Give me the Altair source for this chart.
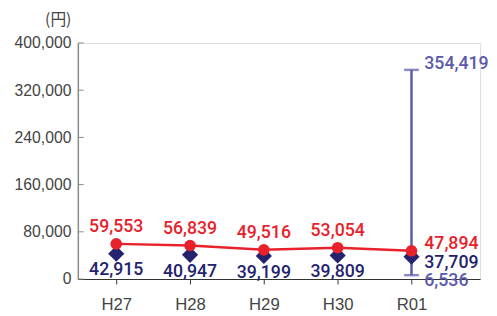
import altair as alt
import pandas as pd

years = ["H27", "H28", "H29", "H30", "R01"]
average = [59553, 56839, 49516, 53054, 47894]
median = [42915, 40947, 39199, 39809, 37709]
r01_min = 6536
r01_max = 354419
y_ticks = [0, 80000, 160000, 240000, 320000, 400000]

RED = "#e8212b"
NAVY = "#23236e"
PURPLE = "#5a5aaa"

df = pd.DataFrame({"idx": list(range(len(years))), "year": years,
                   "avg": average, "med": median})
rng = pd.DataFrame({"idx": [len(years) - 1], "lo": [r01_min], "hi": [r01_max]})
tick_df = pd.DataFrame({"v": y_ticks})

label_expr = "[" + ",".join("'%s'" % y for y in years) + "][datum.value]"
xscale = alt.Scale(domain=[-0.52, 4.93], nice=False, zero=False)
xaxis = alt.Axis(values=list(range(len(years))), labelExpr=label_expr, title=None,
                 grid=False, domainColor="#333333", domainWidth=1.2, tickColor="#333333",
                 tickSize=5, labelFontSize=17, labelColor="#444444", labelPadding=13,
                 labelFont="Liberation Sans")
yscale = alt.Scale(domain=[0, 400000], nice=False)
yaxis = alt.Axis(values=y_ticks, labelExpr="format(datum.value, ',')", title="(円)",
                 titleAngle=0,
                 titleAlign="right", titleBaseline="middle", titleX=-7, titleY=-24,
                 titleFontSize=16, titleFontWeight="normal", titleColor="#444444",
                 titleFont="Noto Sans CJK JP",
                 grid=False, ticks=False, domainColor="#8a8a8a", domainWidth=1.5,
                 labelFontSize=16, labelColor="#444444", labelPadding=7,
                 labelFont="Liberation Sans")


def X():
    return alt.X("idx:Q", scale=xscale, axis=xaxis)


def Y(field):
    return alt.Y(field, scale=yscale, axis=yaxis)


base = alt.Chart(df)

ticks = alt.Chart(tick_df).mark_rule(color="#8a8a8a", strokeWidth=1).encode(
    y=Y("v:Q"), x=alt.value(0), x2=alt.value(6))

err = alt.Chart(rng).mark_rule(color=PURPLE, strokeWidth=2.5).encode(
    x=X(), y=Y("lo:Q"), y2="hi:Q")
cap_lo = alt.Chart(rng).mark_tick(color=PURPLE, orient="horizontal", size=15, thickness=2.5).encode(
    x=X(), y=Y("lo:Q"))
cap_hi = alt.Chart(rng).mark_tick(color=PURPLE, orient="horizontal", size=15, thickness=2.5).encode(
    x=X(), y=Y("hi:Q"))

line = base.mark_line(color=RED, strokeWidth=2.5).encode(x=X(), y=Y("avg:Q"))
diamonds = base.mark_point(shape="diamond", filled=True, size=270, color=NAVY, opacity=1).encode(
    x=X(), y=Y("med:Q"))
circles = base.mark_circle(size=140, color=RED, opacity=1).encode(x=X(), y=Y("avg:Q"))

font = dict(font="Roboto", fontSize=18, fontWeight=500)
red_lbl = base.transform_filter("datum.idx < 4").mark_text(dy=-17, color=RED, **font).encode(
    x=X(), y=Y("avg:Q"), text=alt.Text("avg:Q", format=","))
navy_lbl = base.transform_filter("datum.idx < 4").mark_text(dy=17, color=NAVY, **font).encode(
    x=X(), y=Y("med:Q"), text=alt.Text("med:Q", format=","))
red_last = base.transform_filter("datum.idx == 4").mark_text(
    dx=13, dy=-7, align="left", color=RED, **font).encode(
    x=X(), y=Y("avg:Q"), text=alt.Text("avg:Q", format=","))
navy_last = base.transform_filter("datum.idx == 4").mark_text(
    dx=13, dy=6, align="left", color=NAVY, **font).encode(
    x=X(), y=Y("med:Q"), text=alt.Text("med:Q", format=","))
lo_lbl = alt.Chart(rng).mark_text(dx=13, dy=6, align="left", color=PURPLE, **font).encode(
    x=X(), y=Y("lo:Q"), text=alt.Text("lo:Q", format=","))
hi_lbl = alt.Chart(rng).mark_text(dx=13, dy=-6, align="left", color=PURPLE, **font).encode(
    x=X(), y=Y("hi:Q"), text=alt.Text("hi:Q", format=","))

chart = alt.layer(
    ticks, err, cap_lo, cap_hi, line, diamonds, circles,
    red_lbl, navy_lbl, red_last, navy_last, lo_lbl, hi_lbl
).properties(
    width=409, height=240,
    autosize=alt.AutoSizeParams(type="none"),
    padding={"left": 71, "top": 33, "right": 9, "bottom": 33},
).configure_view(stroke=None).configure(background="white")

chart.save("out.html", embed_options={"renderer": "svg", "actions": False})
